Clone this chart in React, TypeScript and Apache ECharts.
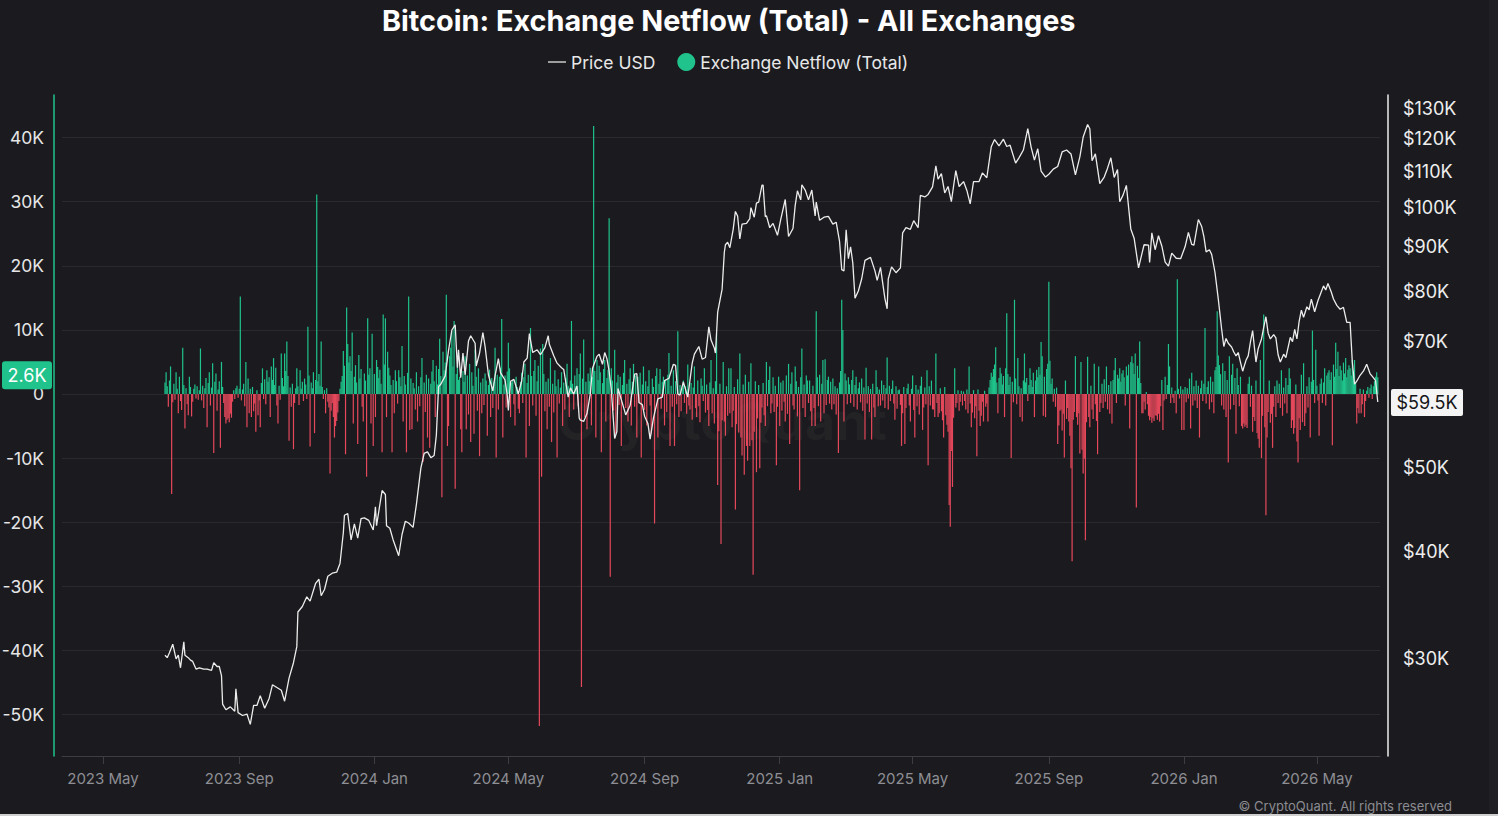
import React, { useEffect, useRef } from "react";
import * as echarts from "echarts";

const BG = "#1b1b1f";
const GREEN = "#1fc38b";
const RED = "#e5485b";
const FONT = "Inter, 'Noto Sans', sans-serif";

// Daily exchange netflow in thousands of BTC, first bar on 2023-06-26
const flow2023 = [
  1.8, 3.4, 1.2, -2.0, 2.1, 4.3, -15.6, -1.3, 1.6, -0.9,
  3.4, 0.8, -3.0, 2.7, -1.1, -2.5, 7.2, 1.4, -5.4, 0.9,
  -1.6, -3.3, 2.7, 1.1, -3.5, -1.2, 0.8, 1.5, -0.7, 1.2,
  -0.9, 0.6, 7.1, -1.0, 1.3, -2.2, 0.9, 2.5, -5.2, 1.7,
  3.4, -1.8, 1.0, 4.8, -9.2, 1.9, 3.2, -2.6, 0.7, 2.0,
  -8.4, 5.0, 1.1, -1.4, -3.6, -4.6, -4.0, -3.8, -4.4, -3.1,
  -3.7, -1.2, 0.6, -0.8, 0.9, 1.3, -0.6, 0.8, 15.2, -1.0,
  0.7, 1.6, -1.9, 5.0, -5.2, 2.4, -3.0, 0.8, -3.6, 1.1,
  -2.7, -1.5, -5.9, 0.6, -3.3, -1.0, -5.2, 1.7, 4.0, -0.8,
  2.3, -1.6, 3.7, 1.9, 2.6, -3.6, 4.3, 2.2, 5.6, 1.4,
  4.1, -1.8, -4.6, 1.3, -0.9, 6.3, 2.5, 1.2, 6.3, 3.6,
  8.2, 2.8, -7.3, 1.0, -2.0, 1.6, -8.6, -1.4, 0.9, 4.0,
  1.2, -1.7, 3.7, 0.8, 1.9, -1.1, 2.4, 1.5, -0.8, 10.5,
  2.9, -8.2, 1.8, 0.9, 3.4, -6.1, 2.2, 31.1, 2.0, 3.1,
  1.3, 8.2, 1.1, -0.8, 0.6, -3.0, 0.9, -1.2, -2.1, -12.4,
  -2.6, -1.4, -3.6, -6.8, -5.0, -4.2, -2.9, -1.1, 0.8, 1.9,
  2.8, 6.7, 4.4, -9.4, 13.5, 7.8, 4.9, 5.9, 3.6, 9.6,
  -4.6, 2.7, 4.5, 1.8, -7.8, 6.1, 2.4, 3.9, -2.0, -4.3,
  3.2, 2.1, -12.9, 11.8, 3.0, 4.0, -4.6, 9.4, -8.1,
];

const flow2024 = [
  3.1, -3.6, 5.3, 4.2, 2.5, 3.8, 1.6, -9.1, 12.4, 4.6,
  11.8, -3.6, 6.6, 4.1, 2.9, 1.4, -9.1, 2.2, -3.0, 3.7,
  2.0, -1.5, 3.7, 2.6, 1.2, 7.5, -4.3, 2.8, 1.5, -9.1,
  3.3, 15.2, -5.6, 2.4, -5.5, 1.7, 0.9, -2.4, 3.4, -4.3,
  1.2, -1.9, 2.6, 5.6, -10.6, 1.8, -2.8, 3.0, -6.8, 2.4,
  -8.4, 1.6, 3.5, 5.3, 2.0, -3.6, 4.4, 1.5, 3.9, 8.6,
  2.8, -16.1, 6.6, 3.7, 4.9, 15.5, -8.1, -5.0, 5.9, 7.2,
  9.8, 4.3, 11.4, -14.8, 3.1, 5.3, 2.2, 2.7, -5.5, -9.1,
  3.6, 1.9, 5.9, -5.5, 2.9, -3.2, 4.7, -7.5, 3.4, 1.3,
  -6.2, 6.9, 2.7, -2.6, 4.0, -9.7, 1.8, -3.0, 2.4, -1.7,
  3.2, 2.1, -6.5, 1.4, 3.8, -3.6, 2.5, -2.2, 1.9, 7.2,
  -9.9, 3.0, -2.4, 2.7, 4.1, 11.7, -6.8, 1.5, 2.9, -2.1,
  3.5, 8.0, 4.0, -3.6, 1.8, 2.2, -1.6, -4.9, 2.7, 1.1,
  -2.3, -3.0, 1.9, 3.3, -1.4, 2.6, 4.7, -9.9, 1.7, 3.0,
  -5.0, 10.3, 2.8, -1.8, 3.6, 5.3, -3.4, 2.0, 4.4, -51.8,
  7.1, -12.9, 7.8, 3.1, -2.7, 1.9, -5.5, 2.4, -2.0, 5.6,
  -7.5, 1.6, -2.9, 3.7, 1.2, -9.9, 2.3, -1.5, 1.0, 3.4,
  -5.0, 1.8, -2.4, 2.5, 4.7, 1.3, -3.6, 2.1, 11.4, 1.6,
  -2.4, 2.9, 1.2, 4.0, -1.9, 3.1, 6.3, -45.7, 2.4, 8.5,
  -3.6, 1.9, -5.5, 3.2, 2.0, 4.1, -4.9, 2.7, 41.8, 3.6,
  -6.8, 5.3, 2.2, 4.4, 3.4, -9.1, 1.7, 3.9, 5.3, -4.3,
  2.5, 3.8, 27.4, -28.5, 4.0, 2.1, -2.6, 6.9, -6.2, 1.8,
  3.0, -1.7, 2.7, -8.1, 1.4, 3.3, 5.3, -2.2, 1.6, -4.3,
  2.3, 4.0, -4.9, 1.9, 4.7, -2.0, 2.9, -6.8, 2.7, -1.4,
  3.3, -9.9, 1.5, 4.3, -2.5, 2.0, -4.9, 1.2, 3.7, -1.8,
  -6.2, 2.4, 1.1, -20.2, 2.8, 4.0, -6.8, 1.6, 3.9, -2.3,
  1.9, 2.7, -4.9, 2.2, -2.8, 3.0, 6.4, -8.1, 1.3, -2.0,
  3.7, -8.1, 2.0, -1.6, 9.8, -3.6, 1.4, -2.7, 0.9, 2.1,
  -1.4, 1.2, -3.1, 4.6, -1.8, -2.4, 1.7, -4.0, 1.0, 4.3,
  -2.2, -3.6, 2.1, -1.9, -4.4, 2.4, 1.3, -1.1, 4.0, -2.9,
  1.5, -2.5, -5.0, 1.8, 5.3, -3.0, 0.9, -4.6, 2.0, 9.4,
  -14.2, -5.8, 1.6, -23.4, -4.1, 5.0, -4.3, -6.5, 1.2, -3.4,
  4.0, -3.0, 4.0, -5.2, -2.6, 1.1, -18.0, -4.7, 2.3, -6.0,
  6.3, -6.8, -9.6, 1.5, -12.6, 3.0, -8.1, -10.4, 1.9, -8.1,
  4.8, -7.2, -28.2, -5.9, 2.0, -12.2, -3.8, 1.4, -11.6, -4.5,
  -2.1, 1.7, -3.3, -5.0, 5.0, -1.9, 2.2, 4.3, -3.0, -1.5,
  2.6, -2.8, 1.3, -11.1, -2.0, 2.7,
];

const flow2025 = [
  -5.0, 1.8, -2.6, 2.1, -1.2, -4.3, 2.9, -3.1, 4.7, -7.8,
  1.6, 3.4, -1.8, -2.4, 4.3, 2.0, -3.5, 1.1, -15.0, 2.6,
  7.1, -2.2, 1.5, -3.6, 2.9, 2.1, -1.4, 2.1, -2.7, -5.0,
  1.3, -2.2, -5.0, 12.9, 2.6, -1.9, 3.0, -4.3, 1.6, 5.3,
  -3.0, 5.4, -1.7, 2.2, 2.7, -1.5, 1.9, -2.4, 2.4, -1.6,
  1.2, -3.2, 0.9, -9.2, 1.8, 3.6, 14.7, 10.0, -4.3, 3.2,
  2.1, -1.6, 2.6, 1.5, -1.4, 2.2, 3.7, -2.0, 1.4, 2.7,
  -2.4, 0.9, 1.8, -1.3, 2.4, -2.6, 1.0, -7.1, 4.1, -1.5,
  1.2, -2.8, 0.8, -7.1, 1.6, -2.1, -3.6, 3.7, 1.1, -1.9,
  0.7, -1.8, 2.1, -1.0, 1.4, -2.2, 0.9, 5.7, -2.4, 1.3,
  -1.1, 0.8, 2.1, -1.5, -4.0, 1.2, -2.3, 0.6, 0.7, -1.7,
  -8.1, -3.0, 1.1, -7.8, -2.2, 0.9, 1.6, -1.8, -4.3, 0.8,
  2.9, -2.5, -6.8, 1.4, -1.9, 0.7, -3.2, 1.3, 2.7, -5.6,
  -2.1, 1.0, -1.6, 3.7, -11.1, 1.2, -1.8, 2.1, -2.4, -2.4,
  -3.6, 6.3, -1.4, -3.6, -3.0, 0.9, -2.7, -4.1, -6.8, 1.1,
  -3.3, -4.8, -5.9, -17.3, -20.7, -8.9, -14.5, -3.7, 4.0, -2.1,
  -1.4, 0.6, -2.6, -1.2, 0.5, -1.8, 0.4, -1.1, -2.4, 0.7,
  -3.0, 4.3, -1.5, -5.2, -2.9, 0.6, -3.8, -1.9, -9.7, 0.7,
  -2.6, -5.0, -3.4, -1.2, -4.3, 0.5, -2.0, -1.5, -4.3, 1.0,
  2.2, 3.3, 2.7, 3.9, 4.6, 7.3, 1.8, -3.0, 2.5, 4.1,
  3.2, 1.5, 2.8, -3.6, 4.0, 12.6, 3.1, 1.4, 2.7, -10.0,
  1.9, -1.3, 14.7, 2.4, -1.6, 5.6, 1.2, -3.6, 0.9, -4.3,
  2.1, 6.3, 1.8, 2.5, -1.1, 1.4, 4.0, 2.2, 1.1, 3.3,
  -3.6, 2.1, 3.8, 2.6, 4.2, 3.0, 8.1, 5.9, -3.4, 2.7,
  -3.6, 3.9, 4.7, 17.5, 5.2, 1.6, 2.4, -1.2, 0.8, -2.0,
  1.0, -7.8, -4.9, -2.6, -2.4, -5.7, -3.1, -9.9, 2.1, -3.9,
  -2.2, -4.3, -6.5, -11.6, -26.1, -4.0, -2.8, 5.9, -3.6, -4.8,
  -3.0, -9.3, 5.0, -8.7, -12.4, -10.1, -22.8, -4.4, 5.8, -3.6,
  -5.2, 1.3, -2.4, -3.9, 4.7, -1.6, -4.2, -9.4, 4.3, -2.8,
  -1.4, 1.6, -2.2, 2.3, -1.2, 4.3, -2.4, 1.4, -3.1, 2.0,
  -4.6, 2.2, 3.7, 5.6, -1.4, 3.0, 2.4, 4.0, 1.9, 3.2,
  3.7, 2.6, -1.8, 4.3, 2.9, 4.6, -5.4, 5.0, 5.9, 4.8,
  3.1, 6.3, -17.7, 4.4, 2.5, 8.2, 1.7, -3.0, -3.0, -1.2,
  -2.4, 0.3, -1.6, -3.4, -4.1, -3.6, -4.5, -3.8, -4.2, -3.3,
  -3.4, -4.0, -3.1, -4.3, -1.9, 2.2, -5.6, -1.0, 2.7, -0.8,
  1.4, 7.8, 4.3, -1.4, 1.0, -0.6, -1.4, 0.5, -3.0, 17.9,
  0.8, -0.7, 1.2, -5.6, 0.7,
];

const flow2026 = [
  -5.6, 1.1, -1.3, 0.9, -0.7, 2.4, -5.4, 3.3, -1.8, 1.2,
  -1.0, 2.1, -2.2, 1.3, -6.8, 0.9, 2.1, -1.1, 1.6, 10.3,
  -1.5, 1.1, 2.0, -2.4, 2.7, -1.3, 1.9, -3.0, 3.7, 4.2,
  12.9, 6.0, 4.5, 3.1, -1.8, 4.8, -2.4, 3.6, -3.6, 2.2,
  -10.7, 5.9, -2.4, 3.0, 4.7, -1.7, 2.5, -6.2, 4.0, 1.4,
  -1.9, 2.7, -5.0, -5.4, -4.6, -5.1, -4.8, -5.3, 1.6, 2.7,
  -2.0, 1.3, -5.9, -3.6, -4.2, 2.1, -6.1, -7.0, -8.4, 5.3,
  -10.0, -3.4, 12.4, -5.2, -18.9, -6.8, -2.8, 2.1, -4.5, -3.1,
  -8.4, -2.0, 1.2, -3.6, 2.1, -1.4, 1.6, -2.2, 3.7, -3.4,
  1.0, -1.5, 2.5, -3.0, 1.4, 4.0, 2.4, -5.3, -4.1, -6.2,
  -5.3, 1.5, -7.4, -10.7, -3.8, -5.6, 3.0, -4.4, 4.8, -5.0,
  -3.0, 1.2, -2.1, 2.6, -6.8, 1.9, 9.9, 2.2, -1.4, 6.9,
  1.3, -1.0, -6.5, 1.6, 2.4, -1.4, 1.8, 4.0, -1.8, 2.9,
  3.3, 3.7, 2.2, 3.4, -8.0, 4.6, 2.7, 8.0, 3.9, 6.6,
  2.8, 4.4, 3.7, 2.1, 4.9, 3.2, 5.6, 2.6, 3.8, 4.5,
  4.0, 2.9, 5.3, 3.5, 5.3, 1.8, -4.6, -2.2, -3.0, 0.8,
  -3.0, -1.6, 0.7, -3.6, -1.1, 0.5, 1.1, -0.6, 0.9, 1.5,
  -0.8, 1.2, 2.0, 2.7, 3.4, 2.6,
];

// BTC price in thousands of USD
const price2023: [string, number][] = [
  ["2023-06-26", 30.3], ["2023-06-28", 30.1], ["2023-06-30", 30.5], ["2023-07-03", 31.2],
  ["2023-07-06", 30.0], ["2023-07-08", 30.3], ["2023-07-10", 29.3], ["2023-07-13", 31.4],
  ["2023-07-14", 30.3], ["2023-07-17", 30.1], ["2023-07-19", 29.9], ["2023-07-21", 29.8],
  ["2023-07-24", 29.2], ["2023-07-27", 29.3], ["2023-07-31", 29.2], ["2023-08-03", 29.2],
  ["2023-08-07", 29.1], ["2023-08-09", 29.7], ["2023-08-12", 29.4], ["2023-08-14", 29.4],
  ["2023-08-16", 28.7], ["2023-08-17", 26.6], ["2023-08-20", 26.2], ["2023-08-24", 26.4],
  ["2023-08-28", 26.1], ["2023-08-29", 27.7], ["2023-08-31", 26.0], ["2023-09-04", 25.8],
  ["2023-09-08", 25.9], ["2023-09-11", 25.2], ["2023-09-14", 26.5], ["2023-09-17", 26.5],
  ["2023-09-20", 27.2], ["2023-09-24", 26.3], ["2023-09-28", 27.0], ["2023-10-01", 28.0],
  ["2023-10-05", 27.8], ["2023-10-09", 27.6], ["2023-10-12", 26.8], ["2023-10-16", 28.5],
  ["2023-10-20", 29.7], ["2023-10-23", 31.0], ["2023-10-24", 34.0], ["2023-10-28", 34.5],
  ["2023-11-01", 35.4], ["2023-11-04", 35.0], ["2023-11-09", 36.7], ["2023-11-12", 37.1],
  ["2023-11-14", 35.5], ["2023-11-17", 36.1], ["2023-11-20", 37.4], ["2023-11-24", 37.7],
  ["2023-11-28", 37.8], ["2023-12-01", 38.7], ["2023-12-04", 42.0], ["2023-12-05", 44.0],
  ["2023-12-08", 44.2], ["2023-12-11", 41.2], ["2023-12-14", 43.0], ["2023-12-17", 41.4],
  ["2023-12-20", 43.6], ["2023-12-23", 43.7], ["2023-12-27", 43.4], ["2023-12-31", 42.3],
];

const price2024: [string, number][] = [
  ["2024-01-02", 45.0], ["2024-01-03", 42.8], ["2024-01-08", 47.0], ["2024-01-11", 46.5],
  ["2024-01-12", 42.8], ["2024-01-15", 42.5], ["2024-01-18", 41.2], ["2024-01-23", 39.5],
  ["2024-01-26", 41.8], ["2024-01-29", 43.3], ["2024-02-01", 43.1], ["2024-02-05", 42.6],
  ["2024-02-08", 45.3], ["2024-02-12", 49.9], ["2024-02-15", 51.9], ["2024-02-18", 52.1],
  ["2024-02-21", 51.3], ["2024-02-24", 51.6], ["2024-02-26", 54.5], ["2024-02-28", 62.0],
  ["2024-03-01", 62.4], ["2024-03-05", 63.8], ["2024-03-08", 68.3], ["2024-03-11", 72.1],
  ["2024-03-14", 73.1], ["2024-03-16", 65.2], ["2024-03-17", 68.4], ["2024-03-19", 63.5],
  ["2024-03-21", 67.8], ["2024-03-23", 64.0], ["2024-03-26", 70.0], ["2024-03-28", 71.0],
  ["2024-04-01", 69.6], ["2024-04-02", 65.5], ["2024-04-05", 67.8], ["2024-04-08", 71.6],
  ["2024-04-10", 69.0], ["2024-04-13", 64.0], ["2024-04-17", 61.3], ["2024-04-19", 63.8],
  ["2024-04-22", 66.8], ["2024-04-24", 64.3], ["2024-04-28", 63.1], ["2024-04-30", 60.6],
  ["2024-05-01", 58.2], ["2024-05-03", 62.9], ["2024-05-06", 63.2], ["2024-05-10", 60.8],
  ["2024-05-13", 62.9], ["2024-05-15", 66.2], ["2024-05-18", 66.9], ["2024-05-20", 71.4],
  ["2024-05-23", 67.9], ["2024-05-27", 68.4], ["2024-05-30", 67.5], ["2024-06-03", 68.8],
  ["2024-06-06", 71.0], ["2024-06-07", 69.4], ["2024-06-11", 67.3], ["2024-06-14", 66.0],
  ["2024-06-18", 65.2], ["2024-06-20", 64.9], ["2024-06-24", 60.3], ["2024-06-26", 61.8],
  ["2024-06-29", 60.8], ["2024-07-02", 62.1], ["2024-07-04", 57.0], ["2024-07-05", 56.7],
  ["2024-07-08", 56.5], ["2024-07-11", 57.7], ["2024-07-14", 60.8], ["2024-07-16", 65.1],
  ["2024-07-20", 67.2], ["2024-07-22", 67.6], ["2024-07-25", 65.8], ["2024-07-27", 67.9],
  ["2024-07-29", 66.8], ["2024-07-31", 64.6], ["2024-08-02", 61.4], ["2024-08-05", 54.0],
  ["2024-08-07", 55.0], ["2024-08-08", 61.7], ["2024-08-12", 59.3], ["2024-08-15", 57.5],
  ["2024-08-19", 59.0], ["2024-08-23", 64.1], ["2024-08-25", 64.2], ["2024-08-27", 59.4],
  ["2024-08-30", 59.1], ["2024-09-01", 57.3], ["2024-09-04", 56.2], ["2024-09-06", 53.9],
  ["2024-09-09", 57.0], ["2024-09-13", 60.0], ["2024-09-17", 60.3], ["2024-09-19", 63.0],
  ["2024-09-23", 63.4], ["2024-09-27", 65.8], ["2024-09-29", 65.6], ["2024-10-01", 60.8],
  ["2024-10-03", 60.6], ["2024-10-06", 62.8], ["2024-10-10", 60.3], ["2024-10-14", 66.0],
  ["2024-10-16", 67.6], ["2024-10-20", 69.0], ["2024-10-23", 66.7], ["2024-10-26", 67.0],
  ["2024-10-29", 72.7], ["2024-10-31", 70.2], ["2024-11-03", 68.7], ["2024-11-04", 67.8],
  ["2024-11-06", 75.6], ["2024-11-10", 80.4], ["2024-11-12", 88.7], ["2024-11-13", 90.5],
  ["2024-11-15", 91.1], ["2024-11-17", 89.8], ["2024-11-20", 94.3], ["2024-11-22", 98.9],
  ["2024-11-24", 97.7], ["2024-11-26", 91.9], ["2024-11-28", 95.6], ["2024-12-02", 95.8],
  ["2024-12-05", 97.0], ["2024-12-06", 99.9], ["2024-12-09", 97.4], ["2024-12-11", 101.1],
  ["2024-12-13", 101.4], ["2024-12-16", 106.1], ["2024-12-17", 106.1], ["2024-12-19", 97.5],
  ["2024-12-20", 97.8], ["2024-12-23", 94.7], ["2024-12-26", 95.8], ["2024-12-30", 92.8],
];

const price2025: [string, number][] = [
  ["2025-01-02", 96.9], ["2025-01-06", 102.1], ["2025-01-09", 92.5], ["2025-01-13", 94.5],
  ["2025-01-15", 100.5], ["2025-01-17", 104.5], ["2025-01-20", 102.0], ["2025-01-21", 106.2],
  ["2025-01-24", 104.7], ["2025-01-27", 102.0], ["2025-01-30", 104.7], ["2025-02-02", 97.7],
  ["2025-02-03", 101.4], ["2025-02-06", 96.6], ["2025-02-10", 97.4], ["2025-02-14", 97.6],
  ["2025-02-18", 95.6], ["2025-02-21", 96.1], ["2025-02-24", 91.4], ["2025-02-26", 84.7],
  ["2025-02-28", 84.4], ["2025-03-02", 94.2], ["2025-03-04", 87.2], ["2025-03-06", 90.0],
  ["2025-03-08", 86.2], ["2025-03-10", 78.5], ["2025-03-13", 80.0], ["2025-03-16", 82.6],
  ["2025-03-19", 86.8], ["2025-03-24", 87.5], ["2025-03-28", 84.4], ["2025-03-30", 82.3],
  ["2025-04-02", 85.2], ["2025-04-06", 78.4], ["2025-04-08", 76.3], ["2025-04-09", 82.6],
  ["2025-04-12", 85.3], ["2025-04-16", 84.0], ["2025-04-20", 85.1], ["2025-04-22", 93.4],
  ["2025-04-25", 94.7], ["2025-04-29", 94.3], ["2025-05-02", 96.5], ["2025-05-06", 94.7],
  ["2025-05-08", 103.2], ["2025-05-12", 102.8], ["2025-05-15", 103.5], ["2025-05-19", 105.6],
  ["2025-05-22", 111.7], ["2025-05-24", 107.8], ["2025-05-27", 109.4], ["2025-05-30", 103.9],
  ["2025-06-02", 105.7], ["2025-06-05", 101.5], ["2025-06-09", 110.3], ["2025-06-12", 105.7],
  ["2025-06-16", 107.1], ["2025-06-19", 104.6], ["2025-06-22", 100.9], ["2025-06-25", 107.1],
  ["2025-06-30", 107.1], ["2025-07-03", 109.6], ["2025-07-07", 108.2], ["2025-07-11", 117.5],
  ["2025-07-14", 119.8], ["2025-07-18", 117.8], ["2025-07-22", 119.9], ["2025-07-25", 117.6],
  ["2025-07-28", 118.0], ["2025-08-02", 112.5], ["2025-08-05", 114.1], ["2025-08-09", 116.5],
  ["2025-08-13", 123.3], ["2025-08-16", 117.4], ["2025-08-19", 113.4], ["2025-08-22", 116.9],
  ["2025-08-25", 110.1], ["2025-08-29", 108.4], ["2025-09-01", 109.2], ["2025-09-05", 110.7],
  ["2025-09-09", 111.5], ["2025-09-13", 115.9], ["2025-09-17", 116.5], ["2025-09-21", 115.3],
  ["2025-09-25", 109.0], ["2025-09-29", 114.4], ["2025-10-02", 120.6], ["2025-10-06", 124.7],
  ["2025-10-08", 123.3], ["2025-10-10", 113.2], ["2025-10-13", 115.3], ["2025-10-17", 106.5],
  ["2025-10-21", 108.4], ["2025-10-24", 111.0], ["2025-10-27", 114.1], ["2025-10-30", 108.3],
  ["2025-11-02", 110.6], ["2025-11-04", 101.5], ["2025-11-07", 103.3], ["2025-11-10", 106.0],
  ["2025-11-14", 94.4], ["2025-11-17", 92.1], ["2025-11-21", 85.1], ["2025-11-24", 88.3],
  ["2025-11-26", 90.5], ["2025-11-30", 90.4], ["2025-12-01", 86.3], ["2025-12-03", 93.4],
  ["2025-12-06", 89.3], ["2025-12-09", 92.7], ["2025-12-12", 90.2], ["2025-12-15", 86.4],
  ["2025-12-18", 85.5], ["2025-12-21", 88.5], ["2025-12-25", 87.3], ["2025-12-29", 87.2],
];

const price2026: [string, number][] = [
  ["2026-01-02", 90.0], ["2026-01-05", 93.5], ["2026-01-08", 90.6], ["2026-01-10", 90.4],
  ["2026-01-14", 96.8], ["2026-01-17", 95.0], ["2026-01-19", 92.5], ["2026-01-21", 88.8],
  ["2026-01-24", 89.3], ["2026-01-26", 88.2], ["2026-01-29", 84.1], ["2026-02-01", 78.3],
  ["2026-02-04", 72.3], ["2026-02-06", 69.0], ["2026-02-08", 70.5], ["2026-02-10", 69.6],
  ["2026-02-13", 68.9], ["2026-02-15", 68.0], ["2026-02-17", 67.3], ["2026-02-19", 67.9],
  ["2026-02-21", 66.2], ["2026-02-23", 64.6], ["2026-02-26", 66.5], ["2026-02-28", 67.3],
  ["2026-03-02", 69.8], ["2026-03-04", 72.0], ["2026-03-07", 66.2], ["2026-03-09", 68.6],
  ["2026-03-12", 70.4], ["2026-03-14", 72.6], ["2026-03-16", 74.7], ["2026-03-18", 71.5],
  ["2026-03-20", 70.4], ["2026-03-23", 71.2], ["2026-03-25", 70.6], ["2026-03-27", 67.5],
  ["2026-03-29", 66.2], ["2026-04-01", 67.6], ["2026-04-03", 67.0], ["2026-04-07", 70.7],
  ["2026-04-09", 69.9], ["2026-04-11", 72.2], ["2026-04-13", 70.4], ["2026-04-15", 73.8],
  ["2026-04-17", 76.0], ["2026-04-19", 74.6], ["2026-04-22", 76.7], ["2026-04-24", 76.1],
  ["2026-04-26", 78.3], ["2026-04-29", 75.7], ["2026-05-02", 78.0], ["2026-05-04", 79.2],
  ["2026-05-07", 81.1], ["2026-05-09", 80.2], ["2026-05-11", 81.6], ["2026-05-14", 79.8],
  ["2026-05-16", 78.3], ["2026-05-19", 77.0], ["2026-05-22", 76.2], ["2026-05-25", 76.6],
  ["2026-05-28", 73.6], ["2026-05-31", 73.6], ["2026-06-02", 66.2], ["2026-06-04", 62.4],
  ["2026-06-06", 62.9], ["2026-06-09", 63.9], ["2026-06-12", 64.6], ["2026-06-15", 65.8],
  ["2026-06-18", 64.2], ["2026-06-21", 63.5], ["2026-06-23", 63.0], ["2026-06-25", 59.5],
];

const xTickDates = [
  "2023-05-01", "2023-09-01", "2024-01-01", "2024-05-01", "2024-09-01",
  "2025-01-01", "2025-05-01", "2025-09-01", "2026-01-01", "2026-05-01",
];
const priceTicks = [30, 40, 50, 70, 80, 90, 100, 110, 120, 130];
const MONTHS = ["Jan", "Feb", "Mar", "Apr", "May", "Jun", "Jul", "Aug", "Sep", "Oct", "Nov", "Dec"];

function toTime(s: string): number {
  const [y, m, d] = s.split("-").map(Number);
  return new Date(y, m - 1, d).getTime();
}

export default function App() {
  const ref = useRef<HTMLDivElement>(null);

  useEffect(() => {
    document.body.style.margin = "0";
    document.body.style.background = BG;
    const el = ref.current;
    if (!el) return;
    const chart = echarts.init(el, null, { renderer: "svg" });

    const flows = [...flow2023, ...flow2024, ...flow2025, ...flow2026];
    const flowData = flows.map((v, i) => ({
      value: [new Date(2023, 5, 26 + i).getTime(), v],
      itemStyle: { color: v >= 0 ? GREEN : RED },
    }));
    const prices = [...price2023, ...price2024, ...price2025, ...price2026];
    const priceData = prices.map(([d, v]) => [toTime(d), v]);
    const lastFlow = flows[flows.length - 1];
    const lastPrice = prices[prices.length - 1][1];
    const xTicks = xTickDates.map(toTime);

    const option: any = {
      animation: false,
      backgroundColor: BG,
      textStyle: { fontFamily: FONT },
      title: {
        text: "Bitcoin: Exchange Netflow (Total) - All Exchanges",
        left: 382,
        top: 6,
        padding: 0,
        textStyle: { color: "#ffffff", fontSize: 28.8, fontWeight: 700, fontFamily: FONT },
      },
      legend: {
        left: 548,
        top: 53,
        padding: 0,
        itemWidth: 18,
        itemHeight: 18,
        itemGap: 22,
        textStyle: { color: "#e8e8e8", fontSize: 17.5, fontFamily: FONT },
        data: [
          { name: "Price USD", icon: "path://M0 0H18V1.6H0Z", itemStyle: { color: "#bfbfbf" } },
          { name: "Exchange Netflow (Total)", icon: "circle", itemStyle: { color: GREEN } },
        ],
      },
      grid: { left: 62, right: 118, top: 95, bottom: 60, containLabel: false, outerBoundsMode: "none" },
      xAxis: {
        // dates as epoch milliseconds on a numeric axis
        type: "value",
        min: toTime("2023-03-25"),
        max: toTime("2026-06-27"),
        axisLine: { show: true, onZero: false, lineStyle: { color: "#3d3d43", width: 1 } },
        axisTick: { show: true, customValues: xTicks, length: 8, lineStyle: { color: "#3d3d43" } },
        axisLabel: {
          customValues: xTicks,
          color: "#8e8e94",
          fontSize: 15,
          margin: 15,
          fontFamily: FONT,
          formatter: (v: number) => {
            const d = new Date(v);
            return `${d.getFullYear()} ${MONTHS[d.getMonth()]}`;
          },
        },
        splitLine: { show: false },
      },
      yAxis: [
        {
          type: "value",
          min: -56.47,
          max: 46.64,
          splitNumber: 10,
          position: "left",
          offset: 8,
          axisLine: { show: true, onZero: false, lineStyle: { color: GREEN, width: 1.5 } },
          axisTick: { show: false },
          axisLabel: {
            color: "#e6e6e6",
            fontSize: 17.5,
            margin: 10,
            fontFamily: FONT,
            showMinLabel: false,
            showMaxLabel: false,
            formatter: (v: number) => {
              if (Math.abs(v % 10) > 1e-6) return "";
              return v === 0 ? "0" : `${v}K`;
            },
          },
          splitLine: { show: true, showMinLine: false, showMaxLine: false, lineStyle: { color: "#2a2a2f", width: 1 } },
        },
        {
          type: "log",
          logBase: 10,
          min: 23.16,
          max: 134.9,
          position: "right",
          offset: 8,
          axisLine: { show: true, lineStyle: { color: "#ececec", width: 1.5 } },
          axisTick: { show: false },
          axisLabel: {
            customValues: priceTicks,
            color: "#eeeeee",
            fontSize: 18,
            margin: 15,
            fontFamily: FONT,
            formatter: (v: number) => `$${Math.round(v)}K`,
          },
          splitLine: { show: false },
        },
      ],
      series: [
        {
          name: "Exchange Netflow (Total)",
          type: "bar",
          yAxisIndex: 0,
          data: flowData,
          barWidth: 1.2,
          itemStyle: { color: GREEN },
          z: 2,
        },
        {
          name: "Price USD",
          type: "line",
          yAxisIndex: 1,
          data: priceData,
          symbol: "none",
          showSymbol: false,
          lineStyle: { color: "#ececec", width: 1.3 },
          itemStyle: { color: "#bfbfbf" },
          z: 3,
        },
      ],
    };

    chart.setOption(option);

    const yFlow = chart.convertToPixel({ yAxisIndex: 0 }, lastFlow) as number;
    const yPrice = chart.convertToPixel({ yAxisIndex: 1 }, lastPrice) as number;
    const tagY = yFlow - 2;

    chart.setOption({
      graphic: [
        {
          type: "text",
          x: 722,
          y: 421,
          z: 0,
          silent: true,
          style: {
            text: "CryptoQuant",
            fill: "rgba(255,255,255,0.035)",
            font: `700 52px ${FONT}`,
            align: "center",
            verticalAlign: "middle",
          },
        },
        {
          type: "rect",
          z: 10,
          shape: { x: 2, y: tagY - 14, width: 50, height: 28, r: 3 },
          style: { fill: GREEN },
        },
        {
          type: "text",
          z: 11,
          x: 27,
          y: tagY,
          style: {
            text: `${lastFlow}K`,
            fill: "#ffffff",
            font: `400 18px ${FONT}`,
            align: "center",
            verticalAlign: "middle",
          },
        },
        {
          type: "rect",
          z: 10,
          shape: { x: 1391, y: yPrice - 13, width: 72, height: 27, r: 2 },
          style: { fill: "#f4f4f4" },
        },
        {
          type: "text",
          z: 11,
          x: 1427,
          y: yPrice,
          style: {
            text: `$${lastPrice}K`,
            fill: "#151518",
            font: `400 18px ${FONT}`,
            align: "center",
            verticalAlign: "middle",
          },
        },
        {
          type: "text",
          z: 10,
          x: 1452,
          y: 806,
          style: {
            text: "© CryptoQuant. All rights reserved",
            fill: "#8c8c91",
            font: `400 13px ${FONT}`,
            align: "right",
            verticalAlign: "middle",
          },
        },
        {
          type: "rect",
          z: 1,
          shape: { x: 1489, y: 0, width: 9, height: 816 },
          style: { fill: "#202024" },
        },
        {
          type: "rect",
          z: 12,
          shape: { x: 0, y: 814, width: 1498, height: 2 },
          style: { fill: "#cfcfcf" },
        },
      ],
    });

    return () => chart.dispose();
  }, []);

  return <div ref={ref} style={{ width: 1498, height: 816, background: BG }} />;
}
